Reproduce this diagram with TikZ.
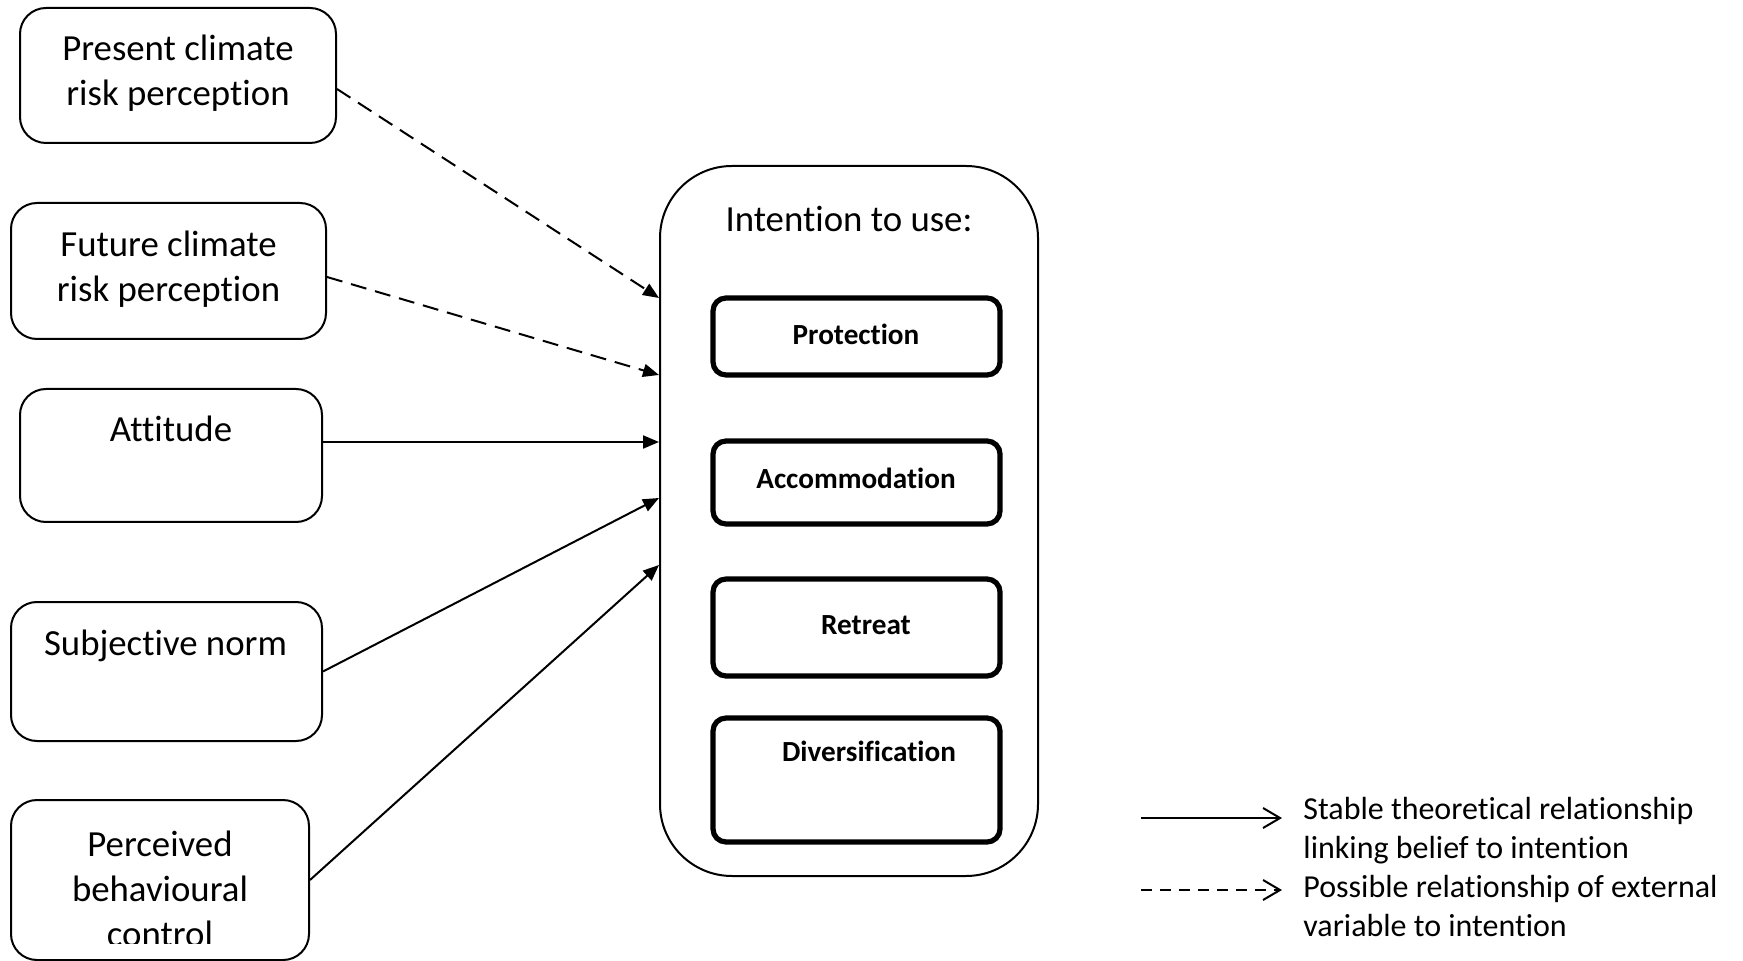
\documentclass[tikz,border=0pt]{standalone}
\usepackage{fontspec}
\setmainfont{Carlito}[Ligatures={NoCommon}, RawFeature={-calt}]
\usetikzlibrary{arrows.meta}

\begin{document}
\begin{tikzpicture}[x=0.5pt,y=-0.5pt,
  factor/.style={draw=black, line width=1pt, rounded corners=13pt, inner sep=0pt},
  option/.style={draw=black, line width=2.6pt, rounded corners=6.5pt, inner sep=0pt,
                 minimum width=143.5pt},
  bigtxt/.style={font=\fontsize{18.4}{22.5}\selectfont, align=center, inner sep=0pt},
  opttxt/.style={font=\fontsize{14.6}{17.8}\selectfont\bfseries, inner sep=0pt},
  legtxt/.style={font=\fontsize{16}{19.5}\selectfont, inner sep=0pt, anchor=base west},
  solidarrow/.style={line width=1pt, -{Triangle[length=8pt,width=6.5pt]}},
  dasharrow/.style={line width=1pt, dash pattern=on 8pt off 4.5pt,
                    -{Triangle[length=8pt,width=6.5pt]}},
  legarrow/.style={line width=1pt, -{Straight Barb[length=8.5pt,width=10pt,line width=1pt]}},
]
\useasboundingbox (0,0) rectangle (1743,961);
\clip (0,0) rectangle (1743,961);

% belief and perception boxes
\node[factor, minimum width=158pt, minimum height=67.5pt] (pres) at (178,75.5) {};
\node[factor, minimum width=157.5pt, minimum height=68pt] (fut) at (168.5,271) {};
\node[factor, minimum width=151pt, minimum height=66.5pt] (att) at (171,455.5) {};
\node[factor, minimum width=155.5pt, minimum height=69.5pt] (subj) at (166.5,671.5) {};
\node[factor, minimum width=149pt, minimum height=80pt] (pbc) at (160,880) {};

\node[bigtxt] (prestxt) at (178,73.5) {Present climate\\risk perception};
\node[bigtxt] (futtxt) at (168.5,269.5) {Future climate\\risk perception};
\node[bigtxt] (atttxt) at (171,429) {Attitude};
\node[bigtxt] (subjtxt) at (165.5,645.5) {Subjective norm};
\begin{scope}
  % the last line runs past the bottom of the box and is cut off
  \clip (11,800) rectangle (309,943);
  \node[bigtxt] (pbctxt) at (160,889) {Perceived\\behavioural\\control};
\end{scope}

% intention box with the four options
\node[draw=black, line width=1pt, rounded corners=36pt, inner sep=0pt,
      minimum width=189pt, minimum height=355pt] (intent) at (849,521) {};
\node[bigtxt] (intenttxt) at (849,219) {Intention to use:};

\node[option, minimum height=38.5pt] (prot) at (856.5,336.5) {};
\node[option, minimum height=41.5pt] (acc) at (856.5,482.5) {};
\node[option, minimum height=48.5pt] (ret) at (856.5,627.5) {};
\node[option, minimum height=62pt] (div) at (856.5,780) {};

\node[opttxt] (prottxt) at (856,334) {Protection};
\node[opttxt] (acctxt) at (856,478) {Accommodation};
\node[opttxt] (rettxt) at (866,625) {Retreat};
\node[opttxt] (divtxt) at (869,751) {Diversification};

% relationships
\draw[dasharrow] ([yshift=-6.75pt]pres.east) -- ([yshift=111.5pt]intent.west);
\draw[dasharrow] ([yshift=-3pt]fut.east) -- ([yshift=73pt]intent.west);
\draw[solidarrow] ([yshift=6.75pt]att.east) -- ([yshift=39.5pt]intent.west);
\draw[solidarrow] (subj.east) -- ([yshift=11.5pt]intent.west);
\draw[solidarrow] (pbc.east) -- ([yshift=-22pt]intent.west);

% legend
\coordinate (lsa) at (1141,818);
\coordinate (lsb) at (1282,818);
\coordinate (lda) at (1141,890);
\coordinate (ldb) at (1282,890);
\draw[legarrow] (lsa) -- (lsb);
\draw[legarrow, dash pattern=on 5.5pt off 4pt] (lda) -- (ldb);
\node[legtxt] (leg1) at (1303,819) {Stable theoretical relationship};
\node[legtxt] (leg2) at (1303,858) {linking belief to intention};
\node[legtxt] (leg3) at (1303,897) {Possible relationship of external};
\node[legtxt] (leg4) at (1303,936) {variable to intention};
\end{tikzpicture}
\end{document}
